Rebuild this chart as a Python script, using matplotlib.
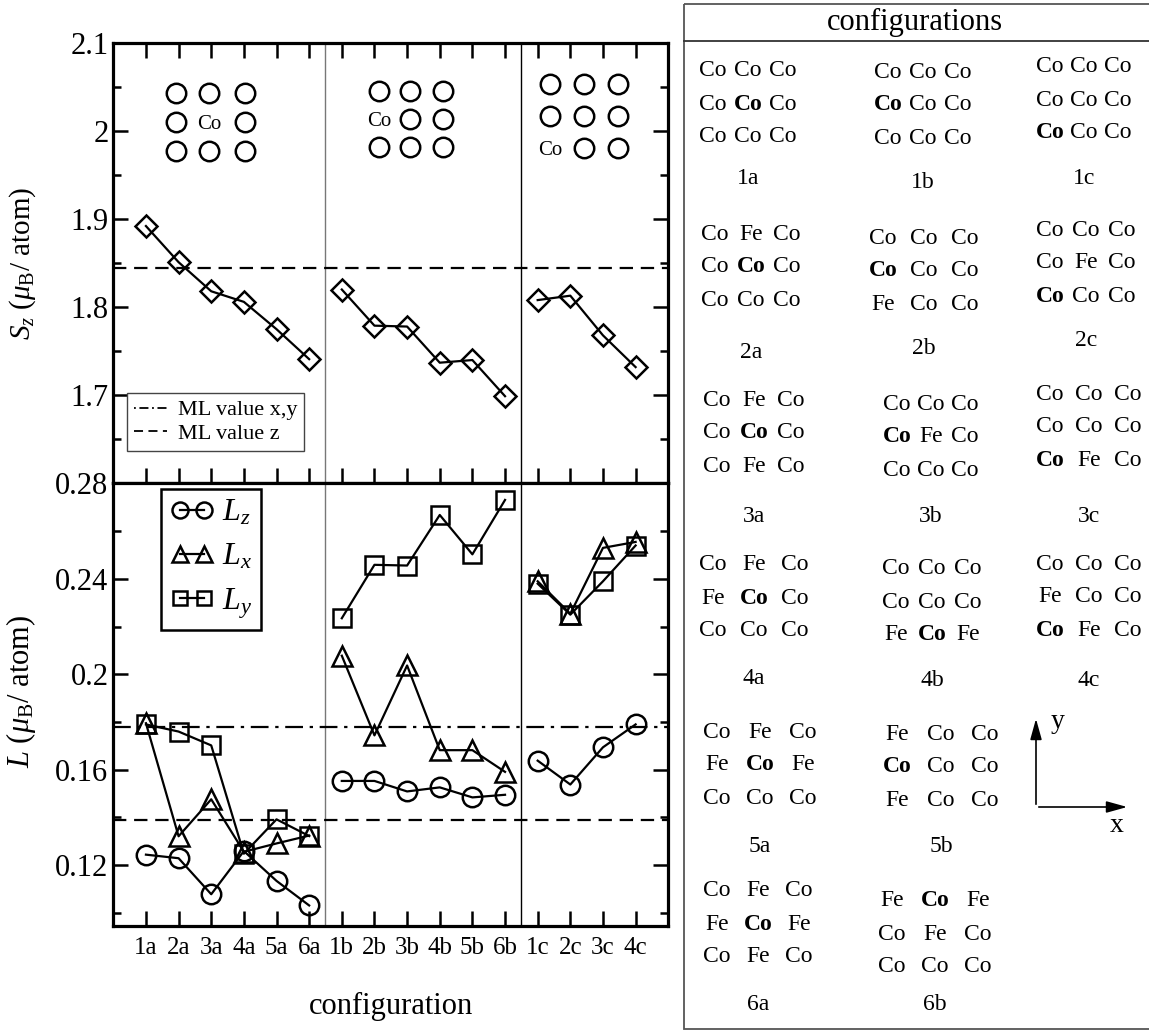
import numpy as np
import matplotlib
matplotlib.use("Agg")
import matplotlib.pyplot as plt
from matplotlib.lines import Line2D
from matplotlib.patches import Rectangle, FancyArrowPatch
from matplotlib.ticker import FixedLocator, MultipleLocator

plt.rcParams["font.family"] = ["Liberation Serif", "DejaVu Serif"]
plt.rcParams["mathtext.fontset"] = "custom"
plt.rcParams["mathtext.rm"] = "Liberation Serif"
plt.rcParams["mathtext.it"] = "Liberation Serif:italic"
plt.rcParams["mathtext.bf"] = "Liberation Serif:bold"

# ---- data ----
CONFIGS = ["1a", "2a", "3a", "4a", "5a", "6a",
           "1b", "2b", "3b", "4b", "5b", "6b",
           "1c", "2c", "3c", "4c"]
GROUP_SIZES = [6, 6, 4]

SZ = [1.892, 1.851, 1.818, 1.806, 1.775, 1.741,
      1.820, 1.779, 1.778, 1.737, 1.740, 1.699,
      1.808, 1.813, 1.768, 1.732]
LZ = [0.1244, 0.1229, 0.1078, 0.1259, 0.1134, 0.1031,
      0.1553, 0.1553, 0.1509, 0.1526, 0.1484, 0.1495,
      0.1638, 0.1538, 0.1694, 0.1790]
LX = [0.1795, 0.1321, 0.1476, 0.1256, 0.1291, 0.1324,
      0.2078, 0.1744, 0.2037, 0.1682, 0.1682, 0.1591,
      0.2390, 0.2254, 0.2530, 0.2555]
LY = [0.1790, 0.1760, 0.1702, 0.1248, 0.1392, 0.1322,
      0.2235, 0.2459, 0.2456, 0.2668, 0.2503, 0.2731,
      0.2380, 0.2250, 0.2390, 0.2540]

ML_XY = 0.178
ML_Z_S = 1.844
ML_Z_L = 0.139

S_TICKS = [1.7, 1.8, 1.9, 2.0, 2.1]
S_TICK_LABELS = ["1.7", "1.8", "1.9", "2", "2.1"]
L_TICKS = [0.12, 0.16, 0.20, 0.24, 0.28]
L_TICK_LABELS = ["0.12", "0.16", "0.2", "0.24", "0.28"]

# atom sketches drawn inside the S_z panel ("o" = empty site)
SKETCHES = [
    [["o", "o", "o"], ["o", "Co", "o"], ["o", "o", "o"]],
    [["o", "o", "o"], ["Co", "o", "o"], ["o", "o", "o"]],
    [["o", "o", "o"], ["o", "o", "o"], ["Co", "o", "o"]],
]

# configuration table ("*" marks the bold central Co)
CFG_NAMES = ["1a", "1b", "1c", "2a", "2b", "2c", "3a", "3b", "3c",
             "4a", "4b", "4c", "5a", "5b", "6a", "6b"]
CFG_ATOMS = [
    ["Co Co Co", "Co *Co Co", "Co Co Co"],
    ["Co Co Co", "*Co Co Co", "Co Co Co"],
    ["Co Co Co", "Co Co Co", "*Co Co Co"],
    ["Co Fe Co", "Co *Co Co", "Co Co Co"],
    ["Co Co Co", "*Co Co Co", "Fe Co Co"],
    ["Co Co Co", "Co Fe Co", "*Co Co Co"],
    ["Co Fe Co", "Co *Co Co", "Co Fe Co"],
    ["Co Co Co", "*Co Fe Co", "Co Co Co"],
    ["Co Co Co", "Co Co Co", "*Co Fe Co"],
    ["Co Fe Co", "Fe *Co Co", "Co Co Co"],
    ["Co Co Co", "Co Co Co", "Fe *Co Fe"],
    ["Co Co Co", "Fe Co Co", "*Co Fe Co"],
    ["Co Fe Co", "Fe *Co Fe", "Co Co Co"],
    ["Fe Co Co", "*Co Co Co", "Fe Co Co"],
    ["Co Fe Co", "Fe *Co Fe", "Co Fe Co"],
    ["Fe *Co Fe", "Co Fe Co", "Co Co Co"],
]

# ---- layout (pixels of the 1149x1030 canvas) ----
CFG_CENTERS = [(748, 104), (923, 105), (1084, 100),
               (751, 267), (924, 271), (1086, 263),
               (754, 433), (931, 437), (1089, 427),
               (754, 598), (932, 602), (1089, 597),
               (760, 765), (941, 767),
               (758, 924), (935, 934)]
CFG_DX = [35, 35, 34, 36, 41, 36, 37, 34, 39, 41, 36, 39, 43, 44, 41, 43]
CFG_LABEL_Y = [178, 182, 178, 352, 348, 340, 516, 516, 516,
               679, 681, 681, 847, 847, 1004, 1004]
SKETCH_X = [[1.92, 2.93, 4.03], [8.14, 9.09, 10.1], [13.37, 14.42, 15.46]]
SKETCH_Y = [[2.043, 2.010, 1.977], [2.045, 2.013, 1.982], [2.053, 2.017, 1.981]]

fig = plt.figure(figsize=(11.49, 10.30), dpi=100)
ax_s = fig.add_axes([0.0986, 0.5306, 0.483, 0.4280])
ax_l = fig.add_axes([0.0986, 0.1010, 0.483, 0.4296])

x = np.arange(1, len(CONFIGS) + 1)
bounds = np.cumsum([0] + GROUP_SIZES)

line_kw = dict(color="black", lw=1.6, mfc="none", mec="black", mew=1.8)


def plot_groups(ax, values, marker, ms):
    values = np.asarray(values)
    for i0, i1 in zip(bounds[:-1], bounds[1:]):
        ax.plot(x[i0:i1], values[i0:i1], marker=marker, ms=ms, **line_kw)


def style_axis(ax, top_ticks):
    ax.set_xlim(0, 17)
    for sp in ax.spines.values():
        sp.set_linewidth(2.3)
    ax.xaxis.set_major_locator(FixedLocator(x))
    ax.tick_params(which="both", direction="in", width=1.8,
                   top=top_ticks, bottom=True, left=True, right=True)
    ax.tick_params(which="major", length=11)
    ax.tick_params(which="minor", length=6)
    for xs, col in [(6.5, "#777777"), (12.5, "black")]:
        ax.axvline(xs, color=col, lw=1.0, zorder=1)


# ---- S_z panel ----
plot_groups(ax_s, SZ, "D", 11)
ax_s.axhline(ML_Z_S, color="black", lw=1.6, ls=(0, (6, 3.5)))
ax_s.set_ylim(1.6, 2.1)
style_axis(ax_s, True)
ax_s.yaxis.set_major_locator(FixedLocator(S_TICKS))
ax_s.set_yticklabels(S_TICK_LABELS, fontsize=22)
ax_s.yaxis.set_minor_locator(MultipleLocator(0.05))
ax_s.set_xticklabels([])
ax_s.set_ylabel(r"$S_z$ ($\mu_{\rm B}$/ atom)", fontsize=21)
ax_s.yaxis.set_label_coords(-0.135, 0.5)

for grid, xs, ys in zip(SKETCHES, SKETCH_X, SKETCH_Y):
    for r, row in enumerate(grid):
        for c, site in enumerate(row):
            if site == "o":
                ax_s.plot(xs[c], ys[r], marker="o", ms=14, mfc="none",
                          mec="black", mew=1.8, ls="none")
            else:
                ax_s.text(xs[c], ys[r] - 0.003, site, fontsize=15,
                          ha="center", va="center")

leg_s = ax_s.legend(
    handles=[Line2D([], [], color="black", lw=1.3, ls=(0, (1, 2, 5, 2))),
             Line2D([], [], color="black", lw=1.3, ls=(0, (5, 3)))],
    labels=["ML value x,y", "ML value z"],
    loc="lower left", bbox_to_anchor=(0.025, 0.074), borderaxespad=0,
    fontsize=16, handlelength=1.5, handletextpad=0.5, borderpad=0.3,
    labelspacing=0.15, fancybox=False, framealpha=1)
leg_s.get_frame().set_edgecolor("#444444")
leg_s.get_frame().set_linewidth(1.0)

# ---- L panel ----
plot_groups(ax_l, LZ, "o", 14)
plot_groups(ax_l, LX, "^", 14)
plot_groups(ax_l, LY, "s", 12.5)
ax_l.axhline(ML_XY, color="black", lw=1.6, ls=(0, (8, 3, 1.5, 3)))
ax_l.axhline(ML_Z_L, color="black", lw=1.6, ls=(0, (6, 3.5)))
ax_l.set_ylim(0.0945, 0.28)
style_axis(ax_l, False)
ax_l.yaxis.set_major_locator(FixedLocator(L_TICKS))
ax_l.set_yticklabels(L_TICK_LABELS, fontsize=22)
ax_l.yaxis.set_minor_locator(MultipleLocator(0.02))
ax_l.set_xticklabels(CONFIGS, fontsize=18)
ax_l.tick_params(axis="x", pad=8)
ax_l.set_ylabel(r"$L$ ($\mu_{\rm B}$/ atom)", fontsize=22)
ax_l.yaxis.set_label_coords(-0.135, 0.53)
ax_l.set_xlabel("configuration", fontsize=22, labelpad=24)

leg_l = ax_l.legend(
    handles=[Line2D([], [], marker=m, ms=s, **line_kw)
             for m, s in [("o", 11.5), ("^", 12), ("s", 10.5)]],
    labels=[r"$L_z$", r"$L_x$", r"$L_y$"],
    loc="upper left", bbox_to_anchor=(0.086, 0.988), borderaxespad=0,
    fontsize=23, numpoints=2, handlelength=1.35, handletextpad=0.25,
    borderpad=0.3, labelspacing=0.45, fancybox=False, framealpha=1)
leg_l.get_frame().set_edgecolor("black")
leg_l.get_frame().set_linewidth(1.8)

# ---- configuration table on the right ----
ax_c = fig.add_axes([0, 0, 1, 1], zorder=-1)
ax_c.set_xlim(0, 1149)
ax_c.set_ylim(1030, 0)
ax_c.axis("off")
ax_c.add_patch(Rectangle((684, 4), 480, 1025, fill=False,
                         edgecolor="#555555", lw=1.3))
ax_c.plot([684, 1149], [40.7, 40.7], color="#333333", lw=1.3)
ax_c.text(915, 22, "configurations", fontsize=22, ha="center", va="center")

for name, rows, (cx, cy), dx, ly in zip(CFG_NAMES, CFG_ATOMS, CFG_CENTERS,
                                         CFG_DX, CFG_LABEL_Y):
    for r, row in enumerate(rows):
        for c, atom in enumerate(row.split()):
            bold = atom.startswith("*")
            ax_c.text(cx + (c - 1) * dx, cy + (r - 1) * 33, atom.strip("*"),
                      fontsize=17, ha="center", va="center",
                      fontweight="bold" if bold else "normal")
    ax_c.text(cx, ly, name, fontsize=17, ha="center", va="center")

for end in [(1036, 716), (1130, 807)]:
    ax_c.add_patch(FancyArrowPatch((1036, 807), end,
                                   arrowstyle="-|>,head_length=0.9,head_width=0.25",
                                   mutation_scale=14, color="black", lw=1.2))
ax_c.text(1058, 722, "y", fontsize=20, ha="center", va="center")
ax_c.text(1117, 826, "x", fontsize=20, ha="center", va="center")

fig.savefig("out.png", dpi=100)
